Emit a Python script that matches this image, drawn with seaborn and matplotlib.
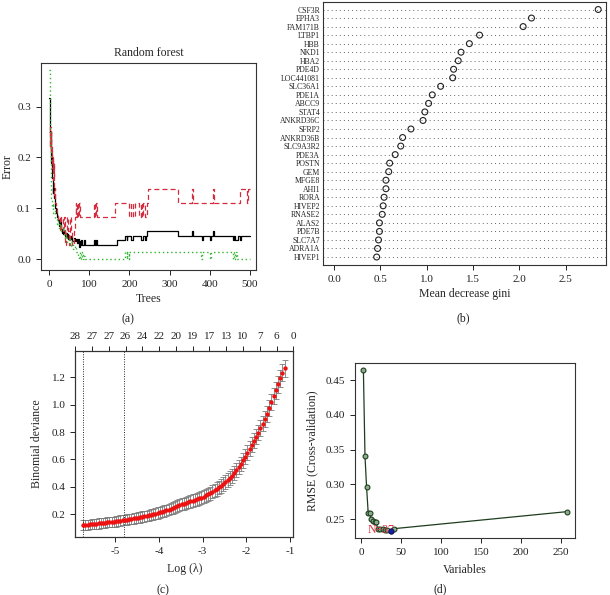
import numpy as np
import pandas as pd
import matplotlib
matplotlib.use("Agg")
import matplotlib.pyplot as plt
import seaborn as sns

# ---------------- (a) Random forest error vs trees (step change points) ----------------
oob_trees = [1, 2, 3, 4, 5, 6, 7, 8, 10, 11, 12, 14, 16, 18, 20, 22, 24, 26, 28, 30, 32, 34, 36, 38,
             40, 42, 44, 46, 48, 50, 53, 56, 58, 61, 64, 67, 70, 72, 74, 76, 78, 80, 83, 86, 90, 113,
             115, 118, 120, 168, 190, 193, 195, 205, 210, 230, 234, 240, 242, 245, 320, 356, 358, 380,
             382, 400, 402, 408, 410, 458, 460, 464, 470, 475, 478, 500]
oob_err = [0.316, 0.28, 0.25, 0.215, 0.23, 0.19, 0.20, 0.16, 0.13, 0.14, 0.12, 0.11, 0.10, 0.09, 0.084,
           0.078, 0.072, 0.066, 0.075, 0.060, 0.052, 0.060, 0.050, 0.055, 0.045, 0.052, 0.042, 0.050,
           0.039, 0.046, 0.039, 0.046, 0.035, 0.042, 0.035, 0.039, 0.032, 0.039, 0.025, 0.035, 0.028,
           0.037, 0.028, 0.037, 0.028, 0.037, 0.028, 0.037, 0.028, 0.037, 0.046, 0.037, 0.046, 0.037,
           0.046, 0.037, 0.046, 0.037, 0.046, 0.055, 0.046, 0.055, 0.046, 0.037, 0.046, 0.037, 0.046,
           0.055, 0.046, 0.037, 0.046, 0.037, 0.046, 0.037, 0.046, 0.046]

red_trees = [1, 2, 3, 4, 5, 6, 7, 8, 9, 10, 12, 13, 15, 16, 18, 20, 23, 26, 28, 31, 34, 37, 39, 42, 45,
             47, 50, 53, 55, 58, 61, 64, 67, 68, 70, 72, 74, 76, 113, 115, 117, 120, 165, 200, 203,
             210, 213, 225, 228, 232, 235, 240, 243, 246, 320, 355, 358, 407, 410, 475, 493, 496, 500]
red_err = [0.25, 0.22, 0.26, 0.21, 0.25, 0.20, 0.22, 0.18, 0.20, 0.155, 0.19, 0.12, 0.14, 0.11, 0.10,
           0.09, 0.08, 0.083, 0.056, 0.083, 0.056, 0.083, 0.028, 0.056, 0.083, 0.056, 0.028, 0.083,
           0.056, 0.028, 0.056, 0.083, 0.111, 0.083, 0.111, 0.083, 0.111, 0.083, 0.111, 0.083, 0.111,
           0.083, 0.111, 0.083, 0.111, 0.083, 0.111, 0.083, 0.111, 0.083, 0.111, 0.083, 0.111, 0.139,
           0.111, 0.139, 0.111, 0.139, 0.111, 0.139, 0.111, 0.139, 0.139]

green_trees = [1, 2, 3, 4, 5, 6, 7, 9, 11, 14, 16, 19, 22, 25, 28, 31, 34, 37, 40, 43, 46, 49, 52, 56,
               60, 64, 68, 72, 75, 77, 79, 81, 84, 86, 89, 190, 193, 195, 198, 200, 378, 380, 400, 402,
               458, 460, 463, 466, 468, 500]
green_err = [0.372, 0.30, 0.22, 0.18, 0.15, 0.12, 0.103, 0.11, 0.09, 0.096, 0.08, 0.069, 0.075, 0.062,
             0.069, 0.055, 0.062, 0.048, 0.041, 0.048, 0.034, 0.041, 0.027, 0.034, 0.021, 0.027, 0.014,
             0.007, 0.0, 0.014, 0.0, 0.014, 0.0, 0.007, 0.0, 0.014, 0.0, 0.014, 0.0, 0.014, 0.0, 0.014,
             0.0, 0.014, 0.0, 0.014, 0.0, 0.014, 0.0, 0.0]

# ---------------- (b) variable importance ----------------
genes = ["CSF3R", "EPHA3", "FAM171B", "LTBP1", "HBB", "NKD1", "HBA2", "PDE4D", "LOC441081", "SLC36A1",
         "PDE1A", "ABCC9", "STAT4", "ANKRD36C", "SFRP2", "ANKRD36B", "SLC9A3R2", "PDE3A", "POSTN", "GEM",
         "MFGE8", "AHI1", "RORA", "HIVEP2", "RNASE2", "ALAS2", "PDE7B", "SLC7A7", "ADRA1A", "HIVEP1"]
gini = [2.85, 2.13, 2.04, 1.57, 1.46, 1.37, 1.34, 1.29, 1.28, 1.15, 1.06, 1.02, 0.98, 0.96, 0.83,
        0.74, 0.72, 0.66, 0.60, 0.59, 0.56, 0.56, 0.54, 0.53, 0.52, 0.49, 0.49, 0.48, 0.47, 0.46]

# ---------------- (c) LASSO cross-validation ----------------
log_lambda = [-5.73, -5.68, -5.63, -5.58, -5.53, -5.48, -5.43, -5.38, -5.33, -5.28, -5.23, -5.18, -5.13,
              -5.08, -5.03, -4.98, -4.93, -4.88, -4.83, -4.78, -4.73, -4.68, -4.63, -4.58, -4.53, -4.48,
              -4.43, -4.38, -4.33, -4.28, -4.23, -4.18, -4.13, -4.08, -4.03, -3.98, -3.93, -3.88, -3.83,
              -3.78, -3.73, -3.68, -3.63, -3.58, -3.53, -3.48, -3.43, -3.38, -3.33, -3.28, -3.23, -3.18,
              -3.13, -3.08, -3.03, -2.98, -2.93, -2.88, -2.83, -2.78, -2.73, -2.68, -2.63, -2.58, -2.53,
              -2.48, -2.43, -2.38, -2.33, -2.28, -2.23, -2.18, -2.13, -2.08, -2.03, -1.98, -1.93, -1.88,
              -1.83, -1.78, -1.73, -1.68, -1.63, -1.58, -1.53, -1.48, -1.43, -1.38, -1.33, -1.28, -1.23,
              -1.18, -1.13]
cv_dev = [0.120, 0.121, 0.123, 0.124, 0.126, 0.128, 0.129, 0.131, 0.133, 0.135, 0.137, 0.139, 0.141,
          0.143, 0.145, 0.147, 0.150, 0.152, 0.155, 0.157, 0.160, 0.162, 0.165, 0.168, 0.171, 0.174,
          0.177, 0.180, 0.183, 0.186, 0.191, 0.195, 0.199, 0.203, 0.208, 0.212, 0.217, 0.222, 0.227,
          0.233, 0.239, 0.245, 0.251, 0.258, 0.265, 0.272, 0.277, 0.282, 0.287, 0.292, 0.298, 0.303,
          0.308, 0.314, 0.321, 0.328, 0.336, 0.344, 0.353, 0.363, 0.373, 0.384, 0.395, 0.407, 0.420,
          0.433, 0.446, 0.462, 0.480, 0.499, 0.520, 0.543, 0.567, 0.593, 0.620, 0.649, 0.679, 0.706,
          0.735, 0.765, 0.795, 0.828, 0.862, 0.895, 0.930, 0.975, 1.022, 1.063, 1.105, 1.149, 1.193,
          1.233, 1.268]
cv_se = [0.036, 0.036, 0.036, 0.036, 0.036, 0.036, 0.036, 0.037, 0.037, 0.037, 0.037, 0.037, 0.037,
         0.037, 0.037, 0.038, 0.038, 0.038, 0.038, 0.038, 0.038, 0.038, 0.039, 0.039, 0.039, 0.039,
         0.039, 0.040, 0.040, 0.040, 0.040, 0.040, 0.041, 0.041, 0.041, 0.041, 0.041, 0.042, 0.042,
         0.042, 0.042, 0.043, 0.043, 0.043, 0.044, 0.044, 0.044, 0.045, 0.045, 0.045, 0.046, 0.046,
         0.046, 0.047, 0.047, 0.047, 0.048, 0.048, 0.048, 0.048, 0.048, 0.049, 0.049, 0.050, 0.050,
         0.050, 0.051, 0.051, 0.051, 0.052, 0.052, 0.053, 0.053, 0.053, 0.054, 0.054, 0.055, 0.055,
         0.055, 0.056, 0.056, 0.057, 0.057, 0.058, 0.058, 0.059, 0.059, 0.060, 0.060, 0.061, 0.061,
         0.062, 0.062]
lambda_min_log = -5.73
lambda_1se_log = -4.79
nonzero_labels = ["28", "27", "27", "26", "24", "22", "20", "19", "17", "13", "10", "7", "6", "0"]

# ---------------- (d) RFE cross-validation ----------------
n_vars = [3, 5, 7, 9, 11, 13, 15, 17, 19, 21, 24, 27, 30, 33, 37, 41, 258]
rmse = [0.465, 0.341, 0.296, 0.2595, 0.2586, 0.250, 0.247, 0.2455, 0.2457, 0.2356, 0.2355, 0.2356,
        0.2346, 0.2345, 0.2327, 0.2365, 0.261]
best_n = 37

# ---------------- style ----------------
sns.set_style("ticks")
plt.rcParams['font.family'] = ['Liberation Serif', 'DejaVu Serif']
plt.rcParams['axes.unicode_minus'] = False
plt.rcParams['axes.linewidth'] = 0.8
plt.rcParams['axes.edgecolor'] = '#333333'
plt.rcParams['xtick.major.size'] = 3.5
plt.rcParams['ytick.major.size'] = 3.5
plt.rcParams['xtick.major.width'] = 0.7
plt.rcParams['ytick.major.width'] = 0.7
plt.rcParams['xtick.labelsize'] = 8
plt.rcParams['ytick.labelsize'] = 8
plt.rcParams['xtick.color'] = '#222222'
plt.rcParams['ytick.color'] = '#222222'

W, H = 610, 595
fig = plt.figure(figsize=(W / 100, H / 100), dpi=100)


def rect(l, r, t, b):
    return [l / W, 1 - b / H, (r - l) / W, (b - t) / H]


def box(ax):
    for s in ax.spines.values():
        s.set_visible(True)
        s.set_color('#333333')


# ---- (a)
axa = fig.add_axes(rect(40.7, 256, 62.7, 270))
sns.lineplot(x=oob_trees, y=oob_err, ax=axa, color='black', lw=0.9, drawstyle='steps-post')
sns.lineplot(x=red_trees, y=red_err, ax=axa, color='#D42B3E', lw=0.9, drawstyle='steps-post',
             linestyle=(0, (4, 2.5)))
sns.lineplot(x=green_trees, y=green_err, ax=axa, color='#2DB52D', lw=1.0, drawstyle='steps-post',
             linestyle=(0, (1, 2)))
axa.set_xlim(-20.6, 515)
axa.set_ylim(-0.021, 0.386)
axa.set_xticks([0, 100, 200, 300, 400, 500])
axa.set_yticks([0.0, 0.1, 0.2, 0.3])
axa.set_yticklabels(["0.0", "0.1", "0.2", "0.3"])
axa.set_xlabel("Trees", fontsize=8.5, labelpad=3)
axa.set_ylabel("Error", fontsize=8.5)
axa.yaxis.set_label_coords(-0.128, 0.5)
axa.set_title("Random forest", fontsize=8.5, pad=5)
box(axa)

# ---- (b)
axb = fig.add_axes(rect(322.7, 606, 2, 265.3))
dfb = pd.DataFrame({"gene": genes, "gini": gini})
dfb["row"] = len(genes) - dfb.index.to_numpy()
for r in dfb["row"]:
    axb.axhline(r, color='#666666', lw=0.7, linestyle=(0, (1, 3.2)), zorder=1)
sns.scatterplot(data=dfb, x="gini", y="row", ax=axb, marker='o', s=18, facecolor='none',
                edgecolor='#222222', linewidth=0.8, zorder=3)
axb.set_xlim(-0.122, 2.934)
axb.set_ylim(0.03, 30.88)
axb.set_yticks(dfb["row"])
axb.set_yticklabels(dfb["gene"], fontsize=5.6)
axb.tick_params(axis='y', length=0, pad=2)
axb.set_xticks([0.0, 0.5, 1.0, 1.5, 2.0, 2.5])
axb.set_xticklabels(["0.0", "0.5", "1.0", "1.5", "2.0", "2.5"])
axb.set_xlabel("Mean decrease gini", fontsize=8.5, labelpad=3)
axb.set_ylabel("")
box(axb)

# ---- (c)
axc = fig.add_axes(rect(75.3, 293.3, 350.7, 537.3))
axc.errorbar(log_lambda, cv_dev, yerr=cv_se, fmt='none', ecolor='#7a7a7a', elinewidth=0.6,
             capsize=2.0, capthick=0.6, zorder=2)
sns.scatterplot(x=log_lambda, y=cv_dev, ax=axc, color='#EE1111', s=10, linewidth=0, zorder=3)
axc.axvline(lambda_min_log, color='#222222', lw=0.7, linestyle=(0, (1, 1.5)))
axc.axvline(lambda_1se_log, color='#222222', lw=0.7, linestyle=(0, (1, 1.5)))
axc.set_xlim(-5.91, -0.93)
axc.set_ylim(0.03, 1.395)
axc.set_xticks([-5, -4, -3, -2, -1])
axc.set_yticks([0.2, 0.4, 0.6, 0.8, 1.0, 1.2])
axc.set_yticklabels(["0.2", "0.4", "0.6", "0.8", "1.0", "1.2"])
axc.set_xlabel("Log (\u03bb)", fontsize=8.5, labelpad=5)
axc.set_ylabel("Binomial deviance", fontsize=8.5)
axc.yaxis.set_label_coords(-0.15, 0.5)
box(axc)
axc_top = axc.twiny()
axc_top.set_xlim(axc.get_xlim())
axc_top.set_xticks(np.linspace(-5.91, -0.93, len(nonzero_labels)))
axc_top.set_xticklabels(nonzero_labels)
box(axc_top)

# ---- (d)
axd = fig.add_axes(rect(355, 575.3, 363.3, 538.3))
sns.lineplot(x=n_vars, y=rmse, ax=axd, color='#1E3D1E', lw=0.9, marker='o', markersize=3.5,
             markerfacecolor='#8DAE8D', markeredgecolor='#1E3D1E', markeredgewidth=0.8)
best_idx = n_vars.index(best_n)
sns.scatterplot(x=[n_vars[best_idx]], y=[rmse[best_idx]], ax=axd, color='#1A1AA8', s=14,
                edgecolor='#101060', linewidth=0.6, zorder=5)
axd.text(n_vars[best_idx] - 28.6, rmse[best_idx] + 0.0019, "N=%d" % best_n, color='#E03040',
         fontsize=8.5, ha='left', va='center')
axd.set_xlim(-7.5, 268.3)
axd.set_ylim(0.2227, 0.474)
axd.set_xticks([0, 50, 100, 150, 200, 250])
axd.set_yticks([0.25, 0.30, 0.35, 0.40, 0.45])
axd.set_yticklabels(["0.25", "0.30", "0.35", "0.40", "0.45"])
axd.set_xlabel("Variables", fontsize=8.5, labelpad=5)
axd.set_ylabel("RMSE (Cross-validation)", fontsize=8.5)
axd.yaxis.set_label_coords(-0.165, 0.5)
box(axd)

# panel labels
for lab, x, y in [("(a)", 128, 319), ("(b)", 463, 318), ("(c)", 163, 590), ("(d)", 440, 589)]:
    fig.text(x / W, 1 - y / H, lab, fontsize=8.5, ha='center', va='center', color='#222222')

fig.savefig("out.png", dpi=100)
